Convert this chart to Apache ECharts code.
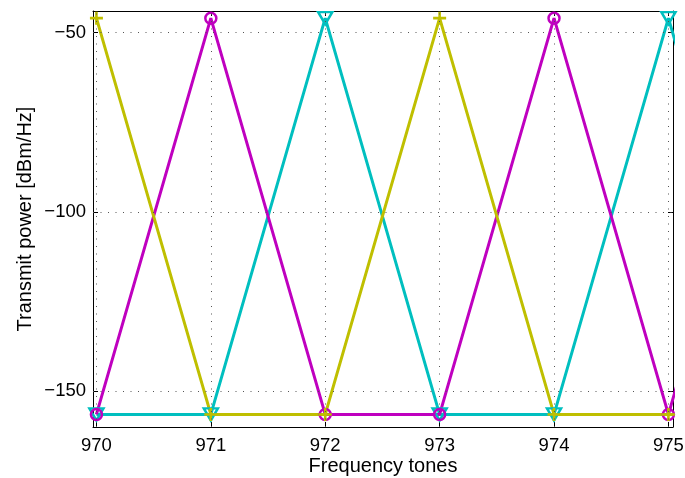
<!DOCTYPE html>
<html>
<head>
<meta charset="utf-8">
<script src="https://cdn.jsdelivr.net/npm/echarts@6/dist/echarts.min.js"></script>
<style>html,body{margin:0;padding:0;background:#fff}#c{width:685px;height:478px}</style>
</head>
<body>
<div id="c"></div>
<script>
// Data
var tones = [970, 971, 972, 973, 974, 975, 976];
var yellowPower = [-46, -156.5, -156.5, -46, -156.5, -156.5, -156.5];
var magentaPower = [-156.5, -46, -156.5, -156.5, -46, -156.5, -46];
var cyanPower = [-156.5, -156.5, -46, -156.5, -156.5, -46, -156.5];
var xTicks = [970, 971, 972, 973, 974, 975];
var yTicks = [-150, -100, -50];

var X_MIN = 969.97, X_MAX = 975.04;
function pairs(vals) {
  return tones.map(function (t, i) {
    var item = { value: [t, vals[i]] };
    if (t > X_MAX) item.symbol = 'none';
    return item;
  });
}

var FONT = 'Liberation Sans, Arial, sans-serif';
var plusPath = 'path://M4,0h2v4h4v2h-4v4h-2v-4h-4v-2h4z';
var triPath = 'path://M0,0L10,0L5,9Z';

var gridLines = [];
xTicks.forEach(function (v) { gridLines.push({ xAxis: v }); });
yTicks.forEach(function (v) { gridLines.push({ yAxis: v }); });

var chart = echarts.init(document.getElementById('c'), null, { renderer: 'canvas' });
var commonX = {
  type: 'value', min: X_MIN, max: X_MAX,
  axisLine: { show: true, onZero: false, lineStyle: { color: '#000', width: 1 } },
  splitLine: { show: false }
};
var commonY = {
  type: 'value', min: -160, max: -44,
  axisLine: { show: true, onZero: false, lineStyle: { color: '#000', width: 1 } },
  splitLine: { show: false }
};
chart.setOption({
  animation: false,
  backgroundColor: '#fff',
  grid: { left: 93, right: 12, top: 11, bottom: 51, show: false, containLabel: false, outerBoundsMode: 'none' },
  xAxis: [
    Object.assign({}, commonX, {
      position: 'bottom',
      name: 'Frequency tones', nameLocation: 'middle', nameGap: 29, nameMoveOverlap: false,
      nameTextStyle: { color: '#000', fontSize: 20, fontFamily: FONT },
      axisTick: { show: true, inside: true, length: 5, customValues: xTicks, lineStyle: { color: '#000' } },
      axisLabel: { show: true, customValues: xTicks, color: '#000', fontSize: 18.5, fontFamily: FONT, margin: 9 }
    }),
    Object.assign({}, commonX, {
      position: 'top',
      axisTick: { show: true, inside: true, length: 5, customValues: xTicks, lineStyle: { color: '#000' } },
      axisLabel: { show: false }
    })
  ],
  yAxis: [
    Object.assign({}, commonY, {
      position: 'left',
      name: 'Transmit power [dBm/Hz]', nameLocation: 'middle', nameGap: 58, nameMoveOverlap: false,
      nameTextStyle: { color: '#000', fontSize: 20, fontFamily: FONT },
      axisTick: { show: true, inside: true, length: 5, customValues: yTicks, lineStyle: { color: '#000' } },
      axisLabel: {
        show: true, customValues: yTicks, color: '#000', fontSize: 18.5, fontFamily: FONT, margin: 7,
        formatter: function (v) { return String(v).replace('-', '\u2212'); }
      }
    }),
    Object.assign({}, commonY, {
      position: 'right',
      axisTick: { show: true, inside: true, length: 5, customValues: yTicks, lineStyle: { color: '#000' } },
      axisLabel: { show: false }
    })
  ],
  series: [
    {
      type: 'line', data: [], silent: true,
      markLine: {
        silent: true, symbol: 'none', label: { show: false },
        lineStyle: { color: '#555', width: 1, type: [1, 6.5] },
        data: gridLines
      }
    },
    {
      type: 'line', data: pairs(cyanPower), clip: true,
      symbol: triPath, symbolSize: [14, 12], symbolKeepAspect: false,
      lineStyle: { color: '#00BFBF', width: 3 },
      itemStyle: { color: 'rgba(0,0,0,0)', borderColor: '#00BFBF', borderWidth: 2.5 }
    },
    {
      type: 'line', data: pairs(magentaPower), clip: true,
      symbol: 'circle', symbolSize: 11,
      lineStyle: { color: '#BF00BF', width: 3 },
      itemStyle: { color: 'rgba(0,0,0,0)', borderColor: '#BF00BF', borderWidth: 2.5 }
    },
    {
      type: 'line', data: pairs(yellowPower), clip: true,
      symbol: plusPath, symbolSize: 13,
      lineStyle: { color: '#BFBF00', width: 3 },
      itemStyle: { color: '#BFBF00', borderWidth: 0 }
    }
  ]
});
</script>
</body>
</html>
